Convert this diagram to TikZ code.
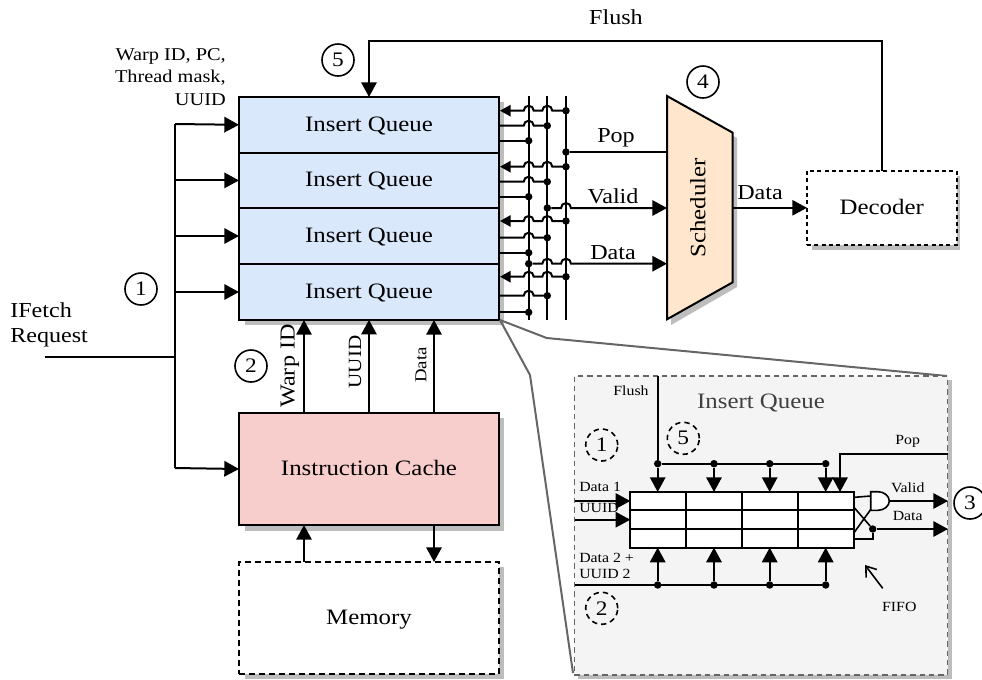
\documentclass[tikz,border=0pt]{standalone}
\usepackage{fontspec}
\setmainfont[FakeStretch=1.13]{Liberation Serif}
\usetikzlibrary{arrows.meta,calc}
\definecolor{qblue}{HTML}{DAE8FC}
\definecolor{cred}{HTML}{F8CECC}
\definecolor{sorange}{HTML}{FFE6CC}
\definecolor{shad}{HTML}{BDBDBD}
\definecolor{inset}{HTML}{F4F4F4}
\newcommand{\hopL}[2]{-- ({#1+5},#2) arc[start angle=0,end angle=-180,radius=5]}
\newcommand{\hopR}[2]{-- ({#1-5},#2) arc[start angle=180,end angle=360,radius=5]}
\tikzset{
  wire/.style={line width=1.5pt,line cap=butt},
  arr/.style={wire,-{Triangle[length=11pt,width=11.5pt]}},
  box/.style={draw=black,line width=1.5pt,minimum width=195pt,inner sep=0pt,outer sep=0pt,text height=9.5pt,text depth=0pt,font=\fontsize{16.5}{18}\selectfont},
  qbox/.style={box,fill=qblue,minimum height=41.7pt},
  dbox/.style={box,fill=white,dash pattern=on 4.5pt off 3pt},
  num/.style={circle,draw=black,line width=1.2pt,minimum size=24pt,inner sep=0pt,font=\fontsize{15.5}{15}\selectfont},
  dnum/.style={num,dash pattern=on 4pt off 3pt},
  lab/.style={inner sep=0pt,font=\fontsize{16}{17}\selectfont},
  wlab/.style={inner sep=0pt,anchor=east,font=\fontsize{13.5}{14}\selectfont},
  slab/.style={inner sep=0pt,font=\fontsize{10.5}{12}\selectfont},
  dot/.style={circle,fill=black,inner sep=0pt,minimum size=5.6pt},
  zoomline/.style={draw=black!60,line width=1.5pt},
}
\begin{document}
\begin{tikzpicture}[x=0.75pt,y=-0.75pt]
\useasboundingbox (0,0) rectangle (982,679);
% shadows
\fill[shad] (245,102) rectangle (504,325);
\fill[shad] (673,102) -- (737,138) -- (737,287) -- (671,325) -- cycle;
\fill[shad] (812,176) rectangle (960,250);
\fill[shad] (245,418) rectangle (504,531);
\fill[shad] (245,567) rectangle (504,679);
% queues
\node[qbox] (q1) at (369,124.8) {Insert Queue};
\node[qbox] (q2) at (369,180.4) {Insert Queue};
\node[qbox] (q3) at (369,236) {Insert Queue};
\node[qbox] (q4) at (369,292) {Insert Queue};
\node[box,fill=cred,minimum height=84pt] (cache) at (369,469) {Instruction Cache};
\node[dbox,minimum height=84pt] (mem) at (369,618) {Memory};
\node[dbox,dash pattern=on 3pt off 2.5pt,minimum width=112.3pt,minimum height=55.7pt] (dec) at (881.8,207.8) {Decoder};
% scheduler
\draw[line width=1.5pt,fill=sorange] (667,96) -- (732.7,132.7) -- (732.7,282.3) -- (667,319.3) -- cycle;
\node[inner sep=0pt,rotate=90,text height=9.5pt,text depth=0pt,font=\fontsize{16.5}{18}\selectfont] (sched) at (699,208) {Scheduler};
\coordinate (spop) at (667,152);
\coordinate (sval) at (667,208);
\coordinate (sdat) at (667,263.7);
\coordinate (sout) at (732.7,207.8);
% left bus
\coordinate (in) at (45,357);
\coordinate (bus) at (175,357);
\coordinate (bt) at (175,124);
\coordinate (bb) at (175,468);
\draw[wire] (in) -- (bus);
\draw[wire] (bb) -- (bt);
\draw[arr] (bt) -- (239,124.8);
\draw[arr] (175,180.4) -- (q2.west);
\draw[arr] (175,236) -- (q3.west);
\draw[arr] (175,292) -- (q4.west);
\draw[arr] (bb) -- (cache.west);
\node[lab,anchor=west] (ifa) at (10,310) {IFetch};
\node[lab,anchor=west] (ifb) at (10,338) {Request};
\node[wlab] (w1) at (226,56) {Warp ID, PC,};
\node[wlab] (w2) at (226,78) {Thread mask,};
\node[wlab] (w3) at (226,100) {UUID};
\node[num] (n5) at (338,60) {5};
\node[num] (n4) at (703,82) {4};
\node[num] (n1) at (141,289) {1};
\node[num] (n2) at (251,366) {2};
\node[num] (n3) at (970,503) {3};
% flush
\coordinate (ftop) at (881.8,41);
\draw[arr] (dec.north) -- (ftop) -| (q1.north);
\node[lab] (fl) at (616,17) {Flush};
% cache arrows
\draw[arr] (304,413) -- (304,320);
\draw[arr] (cache.north) -- (q4.south);
\draw[arr] (434,413) -- (434,320);
\node[lab,rotate=90] (lw) at (290,366) {Warp ID};
\node[lab,rotate=90,font=\fontsize{14}{15}\selectfont] (lu) at (355,362) {UUID};
\node[slab,rotate=90,font=\fontsize{12.5}{14}\selectfont] (ld) at (421,365) {Data};
\draw[arr] (304,562) -- (304,525);
\draw[arr] (434,525) -- (434,562);
% decoder arrow
\draw[arr] (sout) -- (dec.west);
\node[lab] (dl) at (760,193) {Data};
% vertical bus lines
\coordinate (a1) at (528.7,96); \coordinate (a2) at (528.7,320);
\coordinate (b1) at (547.3,96); \coordinate (b2) at (547.3,320);
\coordinate (c1) at (566,96);   \coordinate (c2) at (566,320);
\draw[wire] (a1) -- (a2); \draw[wire] (b1) -- (b2); \draw[wire] (c1) -- (c2);
% per-queue control stubs
\foreach \ya/\yb/\yc in {110.7/125.7/140.7,166.7/181.7/196.7,221/237.7/252.7,276.7/295.7/312.3}{
  \draw[wire,-{Triangle[length=8pt,width=8.5pt]}] (566,\ya) \hopL{547.3}{\ya} \hopL{528.7}{\ya} -- (500,\ya);
  \draw[wire] (547.3,\yb) \hopL{528.7}{\yb} -- (499,\yb);
  \draw[wire] (528.7,\yc) -- (499,\yc);
  \node[dot] at (566,\ya) {};
  \node[dot] at (547.3,\yb) {};
  \node[dot] at (528.7,\yc) {};
}
\node[dot] (dpop) at (566,152) {};
\node[dot] (dval) at (547.3,208) {};
\node[dot] (ddat) at (528.7,263.7) {};
\draw[wire] (dpop) -- (spop);
\draw[arr] (dval) \hopR{566}{208} -- (sval);
\draw[arr] (ddat) \hopR{547.3}{263.7} \hopR{566}{263.7} -- (sdat);
\node[lab] (lp) at (616,138) {Pop};
\node[lab] (lv) at (613,196) {Valid};
\node[lab] (lda) at (613,253) {Data};
% zoom lines
\draw[zoomline] (500,320) -- (546.7,338) -- (947,376);
\draw[zoomline] (500,320) -- (530,375) -- (573,673);
% inset
\fill[shad] (578,380) rectangle (952,679);
\node[draw=black!60,fill=inset,line width=1.2pt,dash pattern=on 4pt off 3pt,minimum width=279.8pt,minimum height=224pt,inner sep=0pt,outer sep=0pt] (ins) at (761,525.5) {};
\node[font=\fontsize{16.5}{18}\selectfont,text=black!75,inner sep=0pt] (it) at (761,402.5) {Insert Queue};
\node[slab] (ifl) at (631,390.7) {Flush};
\node[dnum] (i1) at (601.7,445) {1};
\node[dnum] (i5) at (683.3,438.3) {5};
\node[dnum] (i2) at (601.7,608.3) {2};
% FIFO table
\node[draw=black,fill=white,line width=1.5pt,minimum width=168pt,minimum height=41.7pt,inner sep=0pt,outer sep=0pt] (fifo) at (742.3,519.8) {};
\draw[wire] (630.3,510.3) -- (854.3,510.3);
\draw[wire] (630.3,529) -- (854.3,529);
\foreach \x in {686.3,742.3,798.3} \draw[wire] (\x,492) -- (\x,547.7);
% top bus
\coordinate (ftopi) at (657.7,376);
\node[dot] (t1) at (657.7,463.7) {};
\node[dot] (t2) at (714,463.7) {};
\node[dot] (t3) at (769.7,463.7) {};
\node[dot] (t4) at (825.7,463.7) {};
\draw[wire] (ftopi) -- (t1) -- (t4);
\foreach \x in {1,2,3,4} \draw[arr] (t\x) -- (t\x |- fifo.north);
% bottom bus
\coordinate (bstart) at (574.7,585);
\node[dot] (u1) at (657.7,585) {};
\node[dot] (u2) at (714,585) {};
\node[dot] (u3) at (769.7,585) {};
\node[dot] (u4) at (825.7,585) {};
\draw[wire] (bstart) -- (u4);
\foreach \x in {1,2,3,4} \draw[arr] (u\x) -- (u\x |- fifo.south);
% inputs
\draw[arr] (574.7,501) -- (630.3,501);
\draw[arr] (574.7,519.7) -- (630.3,519.7);
\node[slab,anchor=west] (id1) at (579,486.7) {Data 1};
\node[slab,anchor=west] (iu1) at (579,508) {UUID};
\node[slab,anchor=west] (id2) at (579,557.7) {Data 2 +};
\node[slab,anchor=west] (iu2) at (579,574) {UUID 2};
% pop
\coordinate (ipop) at (948,453.7);
\draw[arr] (ipop) -| (840,492);
\node[slab] (lpop) at (907.7,441.7) {Pop};
% gate
\draw[line width=1.2pt,fill=white] (870.7,491.7) -- (878,491.7) .. controls (884,491.7) and (889.3,496) .. (889.3,501) .. controls (889.3,506) and (884,510.3) .. (878,510.3) -- (870.7,510.3) -- cycle;
\draw[line width=1.2pt] (854.3,497.3) -- (870.7,496);
\draw[line width=1.2pt] (854.3,532.3) -- (870.7,509.5);
\node[dot] (gd) at (872.7,529) {};
\draw[line width=1.2pt] (854.3,507.7) -- (gd);
\draw[line width=1.2pt] (854.3,538.7) -- (872.7,538.7) -- (gd);
\draw[arr] (889.3,501) -- (948,501);
\draw[arr] (gd) -- (948,529);
\node[slab] (lval) at (907.7,487.3) {Valid};
\node[slab] (ldat) at (907.7,515.7) {Data};
\node[slab] (lff) at (899.3,607.3) {FIFO};
\draw[line width=1.2pt,-{Straight Barb[length=7pt,width=10pt]}] (882.7,588.3) -- (865,565);
\end{tikzpicture}
\end{document}
